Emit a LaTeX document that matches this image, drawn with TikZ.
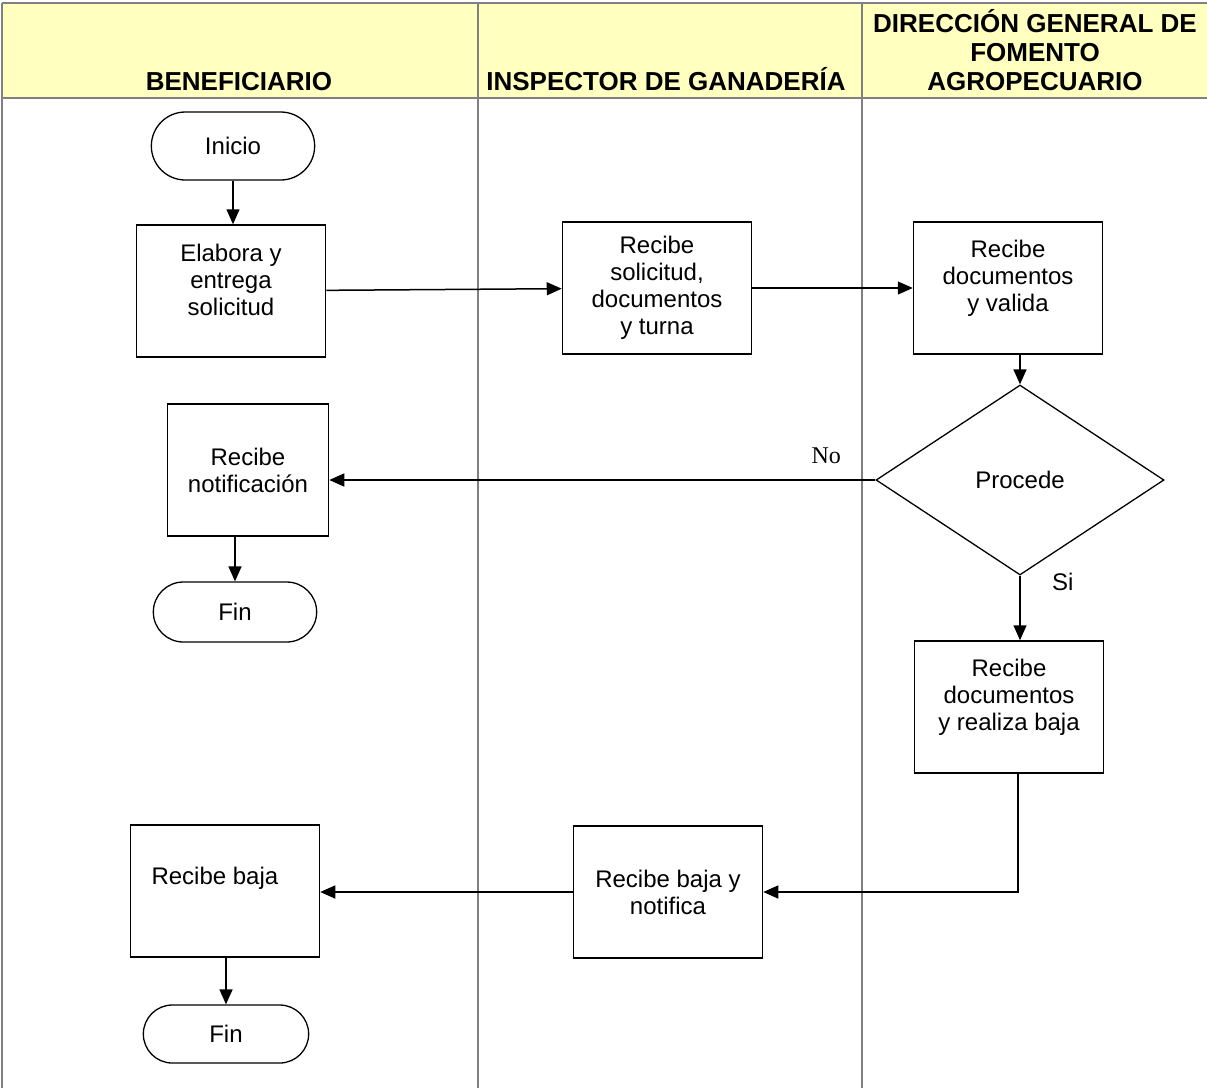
\documentclass[tikz,border=0pt]{standalone}
\usepackage{fontspec}
\setmainfont{Liberation Sans}
\newfontfamily\serifno{Liberation Serif}
\usetikzlibrary{positioning}
\usetikzlibrary{arrows.meta}
\usetikzlibrary{shapes.geometric}
\usetikzlibrary{shapes.misc}
\definecolor{headyellow}{RGB}{255,255,192}
\definecolor{lanegray}{RGB}{128,128,128}

\begin{document}
\begin{tikzpicture}[x=1pt, y=-1pt,
  font=\fontsize{24}{27}\selectfont,
  lane/.style={draw=lanegray, line width=1.5pt},
  box/.style={draw, line width=1.5pt, minimum width=189pt, minimum height=132pt, align=center, inner sep=0pt},
  term/.style={draw, line width=1.3pt, rounded rectangle, minimum width=170pt, minimum height=64pt},
  decision/.style={draw, line width=1.3pt, diamond, minimum width=288pt, minimum height=190pt, inner sep=0pt},
  flow/.style={line width=1.5pt, -{Triangle[length=15pt, width=13pt]}},
  title/.style={font=\fontsize{26}{29}\selectfont\bfseries, align=center, anchor=south, inner sep=1pt}]

  \useasboundingbox (0,0) rectangle (1207,1088);

  % Header row and lanes
  \fill[headyellow] (2,3) rectangle (1207,98);
  \draw[lane] (2,3) -- (1207,3);
  \draw[lane] (2,98) -- (1207,98);
  \draw[lane] (2,3) -- (2,1088);
  \foreach \x in {478,862} {
    \draw[lane] (\x,3) -- (\x,1088);
  }

  \node[title] (hbenef) at (239,92) {BENEFICIARIO};
  \node[title] (hinsp) at (666,92) {INSPECTOR DE GANADERÍA};
  \node[title] (hdir) at (1035,92) {DIRECCIÓN GENERAL DE\\FOMENTO\\AGROPECUARIO};

  % Steps
  \node[term, minimum height=68pt] (inicio) at (233,146) {Inicio};
  \node[box] (elabora) at (231,291) {Elabora y\\entrega\\solicitud\\[-5pt]};
  \node[box] (recsol) at (657,288) {Recibe\\solicitud,\\documentos\\y turna};
  \node[box] (valida) at (1008,288) {Recibe\\documentos\\y valida\\[-2pt]};
  \node[decision] (procede) at (1020,480) {Procede};
  \node[box, minimum width=161pt] (notif) at (248,470) {Recibe\\notificación};
  \node[term, minimum height=60pt] (fin1) at (235,612) {Fin};
  \node[box] (realiza) at (1009,707) {Recibe\\documentos\\y realiza baja\\[-2pt]};
  \node[box] (notifica) at (668,892) {Recibe baja y\\notifica};
  \node[box] (baja) at (225,891) {};
  \node[anchor=west] (bajatext) at (148,878) {Recibe baja};
  \node[term, minimum width=172pt, minimum height=58pt] (fin2) at (226,1034) {Fin};

  % Connectors
  \draw[flow] (inicio.south) -- (inicio.south |- elabora.north);
  \draw[flow] (elabora) -- (recsol);
  \draw[flow] (recsol) -- (valida);
  \draw[flow] (procede.north |- valida.south) -- (procede.north);
  \draw[flow] (procede.west) -- (procede.west -| notif.east)
    node[pos=0.09, above=12pt, font=\serifno\fontsize{24}{27}\selectfont] {No};
  \draw[flow] (fin1.north |- notif.south) -- (fin1.north);
  \draw[flow] (procede.south) -- (procede.south |- realiza.north)
    node[pos=0.1, right=28pt] {Si};
  \draw[flow] ([xshift=9pt]realiza.south) |- (notifica.east);
  \draw[flow] (notifica.west) -- (notifica.west -| baja.east);
  \draw[flow] (fin2.north |- baja.south) -- (fin2.north);

\end{tikzpicture}
\end{document}
